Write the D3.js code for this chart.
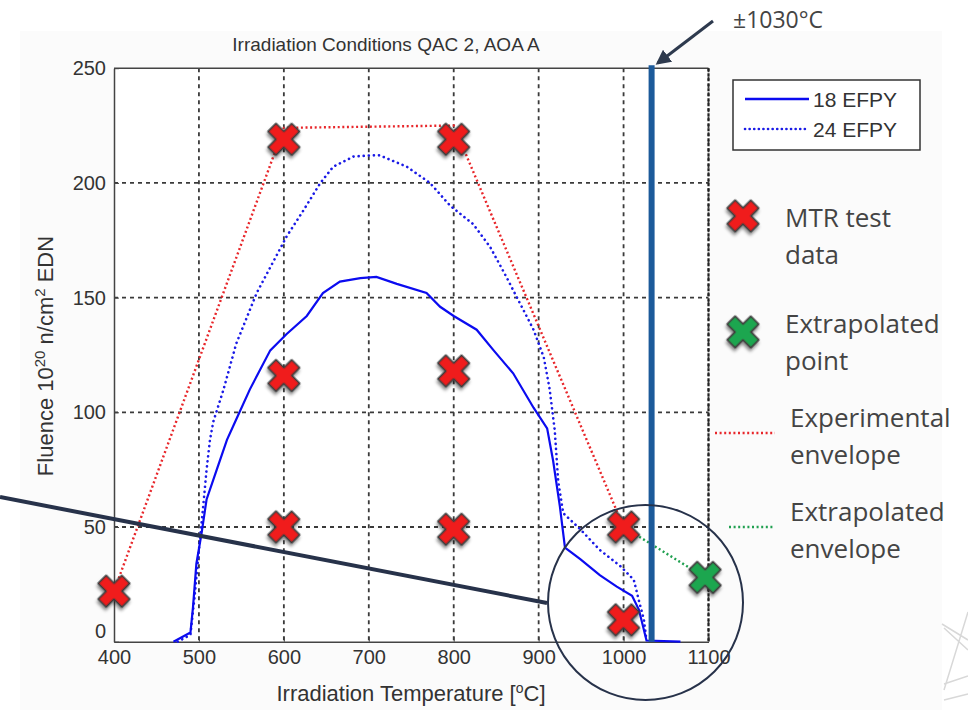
<!DOCTYPE html>
<html>
<head>
<meta charset="utf-8">
<script src="https://cdn.jsdelivr.net/npm/d3@7"></script>
<style>
  body { margin: 0; background: #fff; }
  svg { display: block; }
  .tick text { font-family: "Liberation Sans Narrow", "Liberation Sans", Arial, sans-serif; font-size: 20px; fill: #333; }
  .axis path, .axis line { stroke: #444; }
  .note { font-family: "Open Sans", "Noto Sans", sans-serif; fill: #444; }
</style>
</head>
<body>
<div id="chart"></div>
<script>
// 18 EFPY (solid) curve
const temps18 = [470, 490, 493, 497, 503, 509, 521, 533, 544, 560, 584, 603, 627, 646, 666, 690, 709, 733,
  768, 784, 800, 827, 847, 870, 894, 910, 917, 925, 931, 949, 972, 992, 1010, 1018, 1027, 1067];
const fluence18 = [0, 4, 15, 34, 47, 62, 75, 88, 97, 110, 127, 134, 142, 152, 157, 158.5, 159, 156,
  152, 146, 142, 136, 127, 117, 102, 93, 79, 59, 41, 36, 29, 24, 20, 14, 0.5, 0];

// 24 EFPY (dotted) curve
const temps24 = [475, 490, 495, 500, 505, 509, 513, 517, 529, 544, 568, 588, 603, 623, 643, 658, 682, 702,
  713, 745, 772, 796, 823, 843, 862, 878, 894, 906, 913, 919, 923, 929, 949, 972, 996, 1012, 1018, 1024, 1027];
const fluence24 = [0, 3, 20, 40, 59, 75, 88, 96, 110, 130, 152, 166, 176.5, 188, 200, 207, 211.5, 212,
  212, 207, 200, 190, 182, 172, 159, 147.5, 136, 124, 110, 92, 70, 56, 49, 40, 33, 27, 18, 9.5, 0.5];

// MTR test data points
const mtrTemps = [400, 600, 800, 600, 800, 600, 800, 1000, 1000];
const mtrFluence = [22, 219, 219, 116, 118, 50, 49, 50, 9.5];

// envelopes
const envTemps = [400, 600, 800, 1000];
const envFluence = [22, 224, 225, 50];
const extTemps = [1000, 1096];
const extFluence = [50, 28];

const limitTemp = 1033;

const xTicks = [400, 500, 600, 700, 800, 900, 1000, 1100];
const yTicks = [0, 50, 100, 150, 200, 250];

const width = 968, height = 710;
const plot = {left: 114, right: 708.5, top: 68.2, bottom: 641.7};

const svg = d3.select('#chart').append('svg')
  .attr('width', width)
  .attr('height', height);

const defs = svg.append('defs');
const shadow = defs.append('filter').attr('id', 'shadow')
  .attr('x', '-50%').attr('y', '-50%').attr('width', '200%').attr('height', '200%');
shadow.append('feDropShadow')
  .attr('dx', 1.5).attr('dy', 2.5).attr('stdDeviation', 1.6)
  .attr('flood-color', '#000').attr('flood-opacity', 0.45);

const arrowHead = defs.append('marker').attr('id', 'arrow')
  .attr('viewBox', '0 0 10 10').attr('refX', 8).attr('refY', 5)
  .attr('markerWidth', 5).attr('markerHeight', 5).attr('orient', 'auto');
arrowHead.append('path').attr('d', 'M0,0 L10,5 L0,10 z').attr('fill', '#2e3a4e');

// faint figure panel
svg.append('rect')
  .attr('x', 20).attr('y', 31).attr('width', 922).attr('height', 679)
  .attr('fill', '#fbfbfb');

const x = d3.scaleLinear().domain([400, 1100]).range([plot.left, plot.right]);
const y = d3.scaleLinear().domain([0, 250]).range([plot.bottom, plot.top]);

svg.append('rect')
  .attr('x', plot.left).attr('y', plot.top)
  .attr('width', plot.right - plot.left).attr('height', plot.bottom - plot.top)
  .attr('fill', '#fff');

// grid
const grid = svg.append('g').attr('class', 'grid')
  .attr('stroke', '#3a3a3a').attr('stroke-width', 1.8).attr('stroke-dasharray', '4,4');
grid.selectAll('line.gx')
  .data(xTicks.slice(1))
  .enter().append('line')
  .attr('class', 'gx')
  .attr('x1', d => x(d)).attr('x2', d => x(d))
  .attr('y1', plot.top).attr('y2', plot.bottom);
grid.selectAll('line.gy')
  .data(yTicks.slice(1, -1))
  .enter().append('line')
  .attr('class', 'gy')
  .attr('x1', plot.left).attr('x2', plot.right)
  .attr('y1', d => y(d)).attr('y2', d => y(d));

// axes
svg.append('g')
  .attr('class', 'axis')
  .attr('transform', 'translate(' + [0, plot.bottom] + ')')
  .call(d3.axisBottom(x).tickValues(xTicks).tickFormat(d3.format('d'))
    .tickSizeInner(-5).tickSizeOuter(0).tickPadding(8));
svg.append('g')
  .attr('class', 'axis')
  .attr('transform', 'translate(' + [plot.left, 0] + ')')
  .call(d3.axisLeft(y).tickValues(yTicks).tickSizeInner(-5).tickSizeOuter(0).tickPadding(8))
  .selectAll('.tick text')
  .attr('dy', d => d === 0 ? '-0.2em' : '0.32em');
svg.selectAll('.axis path').attr('stroke-width', 1.5);
svg.append('line')
  .attr('x1', plot.left).attr('x2', plot.right)
  .attr('y1', plot.top).attr('y2', plot.top)
  .attr('stroke', '#444').attr('stroke-width', 1.5);
svg.append('line')
  .attr('x1', plot.right).attr('x2', plot.right)
  .attr('y1', plot.top).attr('y2', plot.bottom)
  .attr('stroke', '#222').attr('stroke-width', 2.2).attr('stroke-dasharray', '3,2');

// titles
svg.append('text')
  .attr('x', 386).attr('y', 51)
  .attr('text-anchor', 'middle')
  .style('font-family', '"Liberation Sans Narrow", "Liberation Sans", Arial, sans-serif')
  .style('font-size', '19px').style('fill', '#333')
  .text('Irradiation Conditions QAC 2, AOA A');

const xLabel = svg.append('text')
  .attr('x', 411).attr('y', 701)
  .attr('text-anchor', 'middle')
  .style('font-family', '"Liberation Sans Narrow", "Liberation Sans", Arial, sans-serif')
  .style('font-size', '22px').style('fill', '#333');
xLabel.append('tspan').text('Irradiation Temperature [');
xLabel.append('tspan').attr('dy', -8).style('font-size', '14px').text('o');
xLabel.append('tspan').attr('dy', 8).text('C]');

const yLabel = svg.append('text')
  .attr('transform', 'translate(53,356) rotate(-90)')
  .attr('text-anchor', 'middle')
  .style('font-family', '"Liberation Sans Narrow", "Liberation Sans", Arial, sans-serif')
  .style('font-size', '22px').style('fill', '#333');
yLabel.append('tspan').text('Fluence 10');
yLabel.append('tspan').attr('dy', -8).style('font-size', '15px').text('20');
yLabel.append('tspan').attr('dy', 8).text(' n/cm');
yLabel.append('tspan').attr('dy', -8).style('font-size', '15px').text('2');
yLabel.append('tspan').attr('dy', 8).text(' EDN');

const line = d3.line().x(d => x(d[0])).y(d => y(d[1]));

// experimental envelope
svg.append('path')
  .datum(d3.zip(envTemps, envFluence))
  .attr('d', line)
  .attr('fill', 'none').attr('stroke', '#e8262a').attr('stroke-width', 2.4)
  .attr('stroke-dasharray', '2,2.6');
svg.append('path')
  .datum(d3.zip(extTemps, extFluence))
  .attr('d', line)
  .attr('fill', 'none').attr('stroke', '#20a050').attr('stroke-width', 2.4)
  .attr('stroke-dasharray', '2,2.6');

// fluence curves
svg.append('path')
  .datum(d3.zip(temps24, fluence24))
  .attr('d', line)
  .attr('fill', 'none').attr('stroke', '#1a1ae6').attr('stroke-width', 2.6)
  .attr('stroke-linecap', 'round')
  .attr('stroke-dasharray', '0.1,5');
svg.append('path')
  .datum(d3.zip(temps18, fluence18))
  .attr('d', line)
  .attr('fill', 'none').attr('stroke', '#0b0bf0').attr('stroke-width', 2.2);

// temperature limit line
svg.append('line')
  .attr('x1', x(limitTemp)).attr('x2', x(limitTemp))
  .attr('y1', y(250) - 3).attr('y2', y(0))
  .attr('stroke', '#1c5a9a').attr('stroke-width', 6);

// pointer line and circle
svg.append('line')
  .attr('x1', 0).attr('y1', 497).attr('x2', 547).attr('y2', 603)
  .attr('stroke', '#27324a').attr('stroke-width', 4);
svg.append('circle')
  .attr('cx', 645.5).attr('cy', 602.5).attr('r', 97.5)
  .attr('fill', 'none').attr('stroke', '#27324a').attr('stroke-width', 2);

// markers
const cross = d3.symbol().type(d3.symbolCross).size(620);
function drawCross(sel, cx, cy, fill) {
  sel.append('path')
    .attr('d', cross())
    .attr('transform', 'translate(' + [cx, cy] + ') rotate(45)')
    .attr('fill', fill).attr('stroke', '#3a3a3a').attr('stroke-width', 1.8)
    .attr('stroke-linejoin', 'round')
    .attr('filter', 'url(#shadow)');
}
const markers = svg.append('g').attr('class', 'markers');
d3.zip(mtrTemps, mtrFluence).forEach(d => drawCross(markers, x(d[0]), y(d[1]), '#f01a1a'));
drawCross(markers, x(extTemps[1]), y(extFluence[1]), '#1fa650');

// arrow + label
svg.append('line')
  .attr('x1', 713).attr('y1', 21).attr('x2', 658).attr('y2', 63)
  .attr('stroke', '#2e3a4e').attr('stroke-width', 3)
  .attr('marker-end', 'url(#arrow)');
svg.append('text').attr('class', 'note')
  .attr('x', 733).attr('y', 28)
  .style('font-size', '23px')
  .text('\u00b11030\u00b0C');

// legend box
const legend = svg.append('g').attr('transform', 'translate(733,80)');
legend.append('rect')
  .attr('width', 187).attr('height', 70)
  .attr('fill', '#fff').attr('stroke', '#333').attr('stroke-width', 1.5);
legend.append('line')
  .attr('x1', 12).attr('x2', 76).attr('y1', 19).attr('y2', 19)
  .attr('stroke', '#0b0bf0').attr('stroke-width', 2.4);
legend.append('line')
  .attr('x1', 12).attr('x2', 76).attr('y1', 49).attr('y2', 49)
  .attr('stroke', '#1a1ae6').attr('stroke-width', 2.6)
  .attr('stroke-linecap', 'round').attr('stroke-dasharray', '0.1,4.5');
['18 EFPY', '24 EFPY'].forEach((t, i) => {
  legend.append('text')
    .attr('x', 80).attr('y', 27 + i * 30)
    .style('font-family', '"Liberation Sans", Arial, sans-serif')
    .style('font-size', '21px').style('fill', '#333')
    .text(t);
});

// side annotations
drawCross(svg, 743, 216, '#f01a1a');
drawCross(svg, 743, 332, '#1fa650');
svg.append('line')
  .attr('x1', 715).attr('x2', 775).attr('y1', 433).attr('y2', 433)
  .attr('stroke', '#e8262a').attr('stroke-width', 2.4).attr('stroke-dasharray', '2,2.6');
svg.append('line')
  .attr('x1', 729).attr('x2', 775).attr('y1', 527).attr('y2', 527)
  .attr('stroke', '#20a050').attr('stroke-width', 2.4).attr('stroke-dasharray', '2,2.6');

const notes = [
  ['MTR test', 785, 227], ['data', 785, 264],
  ['Extrapolated', 785, 333], ['point', 785, 370],
  ['Experimental', 790, 427], ['envelope', 790, 464],
  ['Extrapolated', 790, 521], ['envelope', 790, 558]
];
svg.selectAll('text.side')
  .data(notes)
  .enter().append('text')
  .attr('class', 'note side')
  .attr('x', d => d[1]).attr('y', d => d[2])
  .style('font-size', '26px')
  .text(d => d[0]);

// faint logo fragment bottom right
const logo = svg.append('g').attr('stroke', '#d8d8d8').attr('stroke-width', 1.5).attr('fill', 'none');
logo.append('path').attr('d', 'M942,624 L968,640 M944,628 L968,650 M968,612 L944,690 M944,684 L968,676 M944,700 L968,694');
</script>
</body>
</html>
